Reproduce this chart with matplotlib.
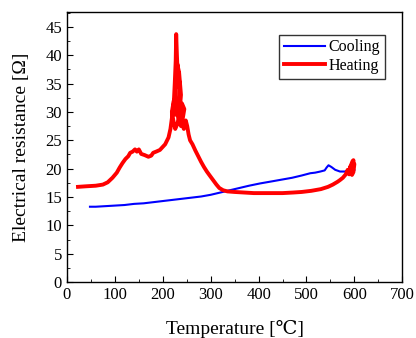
import matplotlib
matplotlib.use("Agg")
import matplotlib.pyplot as plt
from matplotlib.ticker import MultipleLocator

plt.rcParams['font.family'] = ['Liberation Serif', 'DejaVu Serif']

cool_T = [600, 595, 590, 580, 570, 560, 552, 546, 542, 538, 529, 518, 508, 490, 470, 450, 430,
          403, 380, 360, 340, 320, 300, 280, 260, 240, 220, 200, 180, 160, 140, 120, 100, 80, 60, 48]
cool_R = [19.8, 19.6, 19.8, 19.5, 19.5, 19.8, 20.3, 20.6, 20.2, 19.7, 19.5, 19.3, 19.2, 18.8, 18.4, 18.1, 17.8,
          17.4, 17.0, 16.6, 16.2, 15.8, 15.4, 15.1, 14.9, 14.7, 14.5, 14.3, 14.1, 13.9, 13.8, 13.6, 13.5, 13.4, 13.3, 13.3]

heat_T = [23, 40, 60, 75, 85, 95, 104, 110, 116, 122, 128, 132, 137, 142, 146, 150, 155, 162, 170,
          176, 180, 186, 194, 205, 212, 216, 220, 223, 225, 227, 228, 229.5, 231, 229, 226, 224, 227,
          232, 236, 233, 230, 234, 238, 235, 231, 226, 222, 219, 223, 228, 233, 238, 242, 245, 240,
          236, 240, 244, 248, 251, 254, 257, 262, 268, 274, 280, 286, 292, 298, 305, 312, 318, 326,
          335, 350, 370, 390, 410, 430, 450, 472, 490, 510, 530, 545, 555, 565, 570, 576, 582, 586,
          589, 591, 593, 595, 597, 598, 596, 593, 590, 592, 596, 600, 598, 595, 592]
heat_R = [16.8, 16.9, 17.0, 17.2, 17.6, 18.4, 19.3, 20.2, 21.0, 21.7, 22.2, 22.8, 23.0, 23.4, 23.0, 23.4,
          22.6, 22.4, 22.1, 22.3, 22.8, 23.0, 23.3, 24.3, 25.5, 27.0, 29.5, 31.5, 35.0, 39.0, 43.7, 40.0,
          37.0, 35.0, 33.0, 31.0, 29.5, 31.5, 34.0, 36.5, 38.5, 37.0, 33.0, 30.0, 28.0, 27.0, 28.5, 30.0,
          32.0, 30.5, 29.0, 27.5, 29.0, 30.5, 31.5, 30.0, 28.0, 27.0, 28.5, 27.5, 26.0, 25.0, 24.3, 23.2,
          22.2, 21.2, 20.3, 19.5, 18.8, 18.0, 17.2, 16.6, 16.2, 16.0, 15.9, 15.8, 15.7, 15.7, 15.7, 15.7,
          15.8, 15.9, 16.1, 16.4, 16.8, 17.2, 17.7, 18.0, 18.4, 19.0, 19.8, 19.0, 20.3, 19.6, 20.9, 20.0,
          21.5, 20.6, 19.6, 19.2, 20.4, 21.3, 20.8, 19.4, 18.9, 19.8]

fig = plt.figure(figsize=(4.16, 3.38), dpi=100)
ax = fig.add_axes([0.161, 0.165, 0.806, 0.7995])

ax.plot(cool_T, cool_R, color='#0000ff', lw=1.5, label='Cooling')
ax.plot(heat_T, heat_R, color='#ff0000', lw=2.8, label='Heating')

ax.set_xlim(0, 700)
ax.set_ylim(0, 47.6)
ax.xaxis.set_major_locator(MultipleLocator(100))
ax.xaxis.set_minor_locator(MultipleLocator(50))
ax.yaxis.set_major_locator(MultipleLocator(5))
ax.yaxis.set_minor_locator(MultipleLocator(2.5))
ax.tick_params(which='both', direction='in', top=False, right=False, labelsize=12)
ax.tick_params(which='major', length=4)
ax.tick_params(which='minor', length=2)
for s in ax.spines.values():
    s.set_linewidth(1.0)

ax.set_xlabel('Temperature [\u2103]', fontsize=14, labelpad=12)
ax.set_ylabel('Electrical resistance [\u03a9]', fontsize=14, labelpad=11)

leg = ax.legend(loc='upper right', bbox_to_anchor=(0.948, 0.916), fontsize=11.5, frameon=True,
                fancybox=False, edgecolor='black', handlelength=2.6, borderpad=0.3,
                labelspacing=0.15, handletextpad=0.2, borderaxespad=0)
leg.get_frame().set_linewidth(1.0)

fig.savefig('out.png', dpi=100)
